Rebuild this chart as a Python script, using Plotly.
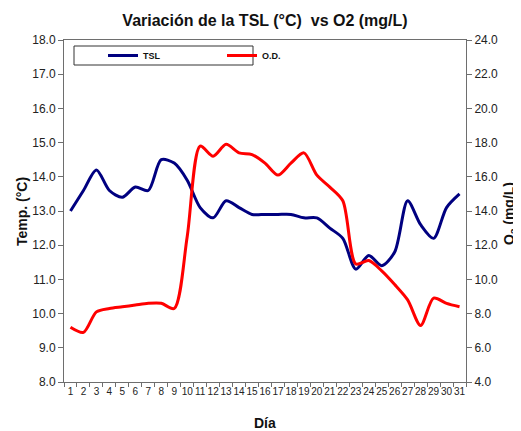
import plotly.graph_objects as go

dias = list(range(1, 32))
tsl = [13.0, 13.6, 14.2, 13.6, 13.4, 13.7, 13.6, 14.5, 14.4, 13.9, 13.1,
       12.8, 13.3, 13.1, 12.9, 12.9, 12.9, 12.9, 12.8, 12.8, 12.5,
       12.2, 11.3, 11.7, 11.4, 11.8, 13.3, 12.6, 12.2, 13.1, 13.5]
od = [7.2, 6.9, 8.1, 8.3, 8.4, 8.5, 8.6, 8.6, 8.3, 12.5, 17.8,
      17.2, 17.9, 17.4, 17.3, 16.8, 16.1, 16.8, 17.4, 16.1, 15.4,
      14.6, 10.9, 11.1, 10.5, 9.7, 8.8, 7.3, 8.9, 8.6, 8.4]
left_ticks = [8.0 + i for i in range(11)]
right_ticks = [4.0 + 2 * i for i in range(11)]

FONT = "Liberation Sans, Arial, sans-serif"
AX = "#6e6e6e"

fig = go.Figure()
fig.add_trace(go.Scatter(x=dias, y=tsl, name="TSL", mode="lines",
                         line=dict(color="#000080", width=3, shape="spline", smoothing=0.8)))
fig.add_trace(go.Scatter(x=dias, y=od, name="O.D.", mode="lines", yaxis="y2",
                         line=dict(color="#ff0000", width=3, shape="spline", smoothing=0.8)))

# page body margin offsets the figure by 8px
OX = 8
W, H = 521 - OX, 431 - OX
L, T = 64 - OX, 40 - OX
R, B = 521 - 466, 431 - 382
pw, ph = W - L - R, H - T - B

def px(x):
    return (x - OX - L) / pw

def py(y):
    return 1 - (y - OX - T) / ph

fig.update_layout(
    width=W, height=H,
    margin=dict(l=L, r=R, t=T, b=B, autoexpand=False),
    paper_bgcolor="white", plot_bgcolor="white",
    font=dict(family=FONT, color="#222", size=12),
    title=dict(text="<b>Variación de la TSL (°C)  vs O2 (mg/L)</b>",
               x=(265 - OX) / W, xanchor="center", y=1 - (20 - OX) / H, yanchor="middle",
               font=dict(size=16, color="#111", family=FONT)),
    showlegend=True,
    legend=dict(orientation="h", x=px(103), xanchor="left",
                y=py(55.5), yanchor="middle",
                bgcolor="rgba(0,0,0,0)", borderwidth=0,
                font=dict(size=9, color="#111", family=FONT, weight="bold"),
                entrywidth=74, entrywidthmode="pixels", tracegroupgap=0,
                itemwidth=30),
    xaxis=dict(range=[0.5, 31.5], tickmode="array", tickvals=dias,
               ticktext=[str(d) for d in dias], ticks="", tickangle=0,
               showgrid=False, zeroline=False, showline=True, linecolor=AX,
               linewidth=1, mirror=True, automargin=False,
               minor=dict(tickmode="linear", tick0=0.5, dtick=1, ticks="outside",
                          ticklen=4, tickcolor=AX, showgrid=False),
               tickfont=dict(size=10, color="#222")),
    yaxis=dict(range=[8, 18], tickmode="array", tickvals=left_ticks,
               ticktext=[f"{v:.1f}" for v in left_ticks],
               ticks="outside", ticklen=5, tickcolor=AX, automargin=False,
               showgrid=False, zeroline=False, showline=True, linecolor=AX, linewidth=1,
               tickfont=dict(size=12, color="#222")),
    yaxis2=dict(range=[4, 24], tickmode="array", tickvals=right_ticks,
                ticktext=[f"{v:.1f}" for v in right_ticks],
                overlaying="y", side="right", automargin=False,
                ticks="outside", ticklen=5, tickcolor=AX,
                showgrid=False, zeroline=False, showline=True, linecolor=AX, linewidth=1,
                tickfont=dict(size=12, color="#222")),
    shapes=[dict(type="rect", xref="paper", yref="paper",
                 x0=px(74), x1=px(253), y0=py(65), y1=py(46),
                 line=dict(color="#333", width=1), fillcolor="rgba(0,0,0,0)")],
    annotations=[
        dict(text="<b>Temp. (°C)</b>", xref="paper", yref="paper",
             x=px(22), y=py(212), textangle=-90, showarrow=False,
             xanchor="center", yanchor="middle", font=dict(size=14, color="#111")),
        dict(text="<b>O<sub>2</sub> (mg/L)</b>", xref="paper", yref="paper",
             x=px(510), y=py(214), textangle=-90, showarrow=False,
             xanchor="center", yanchor="middle", font=dict(size=14, color="#111")),
        dict(text="<b>Día</b>", xref="paper", yref="paper",
             x=px(265), y=py(423), showarrow=False,
             xanchor="center", yanchor="middle", font=dict(size=14, color="#111")),
    ],
)

fig.write_html("out.html")
